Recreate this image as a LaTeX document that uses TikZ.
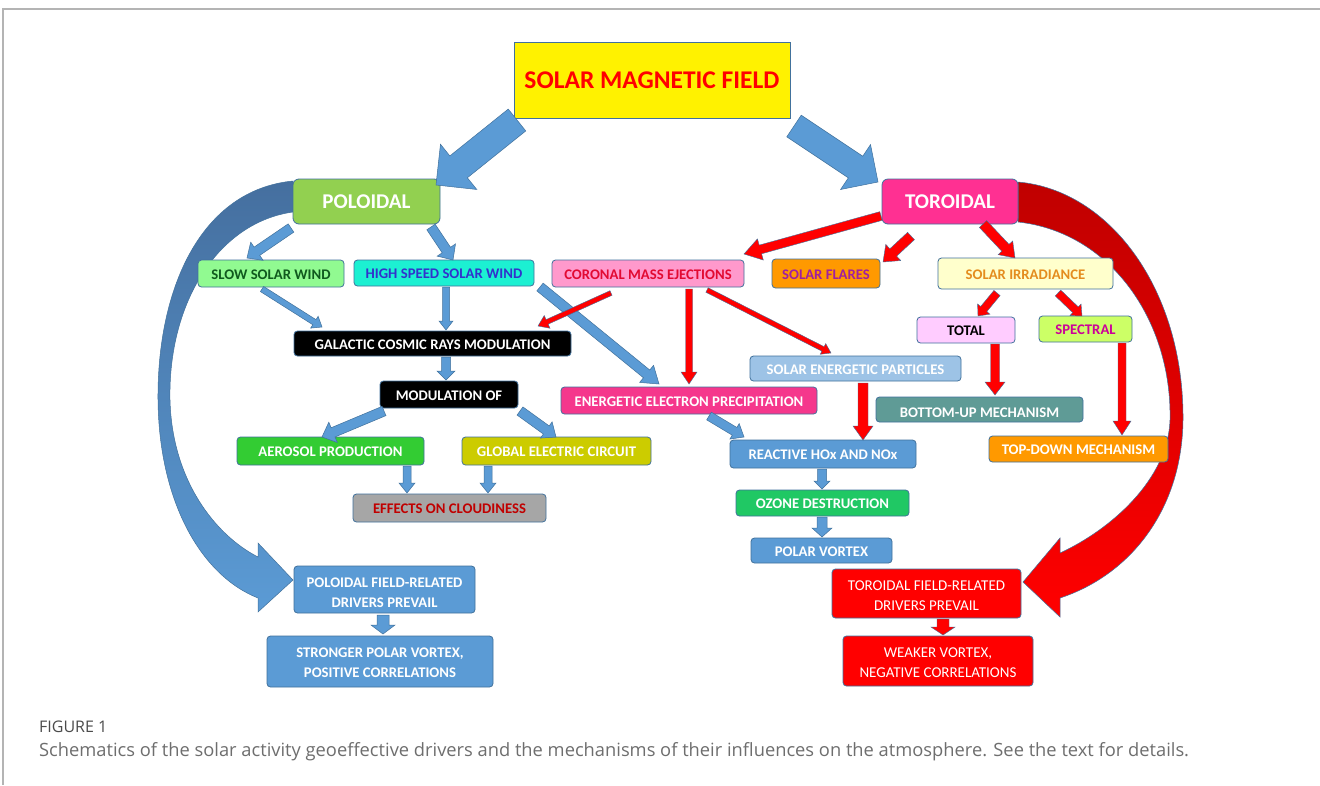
\documentclass[tikz,border=0pt]{standalone}
\usepackage{fontspec}
\setmainfont{Carlito}
\newfontfamily\capfont{Open Sans}
\usetikzlibrary{calc}
\definecolor{bordc}{HTML}{41719C}
\definecolor{bluef}{HTML}{5B9BD5}
\definecolor{bluedark}{HTML}{456F9F}
\definecolor{reddark}{HTML}{C00000}
\definecolor{framec}{HTML}{B4B4B4}
\newcommand\barrow[6]{%
  \coordinate (baS) at #1;
  \coordinate (baE) at #2;
  \coordinate (baH) at ($(baE)!#5pt!(baS)$);
  \path[#6] ($(baS)!#3pt!90:(baE)$) -- ($(baH)!#3pt!-90:(baS)$) -- ($(baH)!#4pt!-90:(baS)$) -- (baE) -- ($(baH)!#4pt!90:(baS)$) -- ($(baH)!#3pt!90:(baS)$) -- ($(baS)!#3pt!-90:(baE)$) -- cycle;
}
\tikzset{
  box/.style={draw=bordc, line width=0.8pt, rounded corners=3.5pt, inner sep=0pt, align=center,
    text height=12pt, font=\bfseries\fontsize{14.7}{20}\selectfont},
  twoline/.style={text height=#1, text depth=0pt},
  bluearr/.style={fill=bluef, draw=bordc, line width=0.5pt},
  redarr/.style={fill=red, draw=bordc, line width=0.4pt},
}
\begin{document}
\begin{tikzpicture}[x=1pt,y=-1pt]
\useasboundingbox[fill=white] (0,0) rectangle (1320,785);
\draw[framec, line width=1.3pt] (3,785) -- (3,9) -- (1320,9);

% big curved arrows
\path[top color=bluedark, bottom color=bluef, draw=bordc, line width=0.5pt]
  (293,181) .. controls (200,190) and (157,290) .. (158,400)
  .. controls (159,500) and (200,575) .. (258,598)
  -- (258,612) -- (293,580) -- (258,543) -- (258,557)
  .. controls (215,535) and (172,480) .. (170,400)
  .. controls (168,300) and (220,222) .. (293,212) -- cycle;
\path[top color=reddark, bottom color=red, draw=bordc, line width=0.5pt]
  (1018,182) .. controls (1110,190) and (1184,290) .. (1183,420)
  .. controls (1182,510) and (1130,575) .. (1060,598)
  -- (1060,617) -- (1023,582) -- (1060,538) -- (1060,553)
  .. controls (1110,530) and (1168,480) .. (1170,420)
  .. controls (1172,320) and (1110,232) .. (1018,222) -- cycle;

% boxes
\node[box, rounded corners=0pt, fill=yellow, minimum width=276pt, minimum height=76pt, text height=18pt,
  font=\bfseries\fontsize{25.5}{28}\selectfont, text=red] (smf) at (652,80) {SOLAR MAGNETIC FIELD};
\node[box, rounded corners=6pt, fill={rgb,255:red,146;green,208;blue,80}, minimum width=147pt, minimum height=45pt, text height=14pt,
  font=\bfseries\fontsize{21}{24}\selectfont, text=white] (pol) at (366.5,201.5) {POLOIDAL};
\node[box, rounded corners=6pt, fill={rgb,255:red,255;green,48;blue,146}, minimum width=136pt, minimum height=45pt, text height=14pt,
  font=\bfseries\fontsize{21}{24}\selectfont, text=white] (tor) at (950,201.5) {TOROIDAL};

\node[box, fill={rgb,255:red,145;green,250;blue,145}, text={rgb,255:red,16;green,90;blue,30},
  minimum width=146pt, minimum height=27pt] (ssw) at (271,273.5) {SLOW SOLAR WIND};
\node[box, fill={rgb,255:red,28;green,240;blue,210}, text={rgb,255:red,50;green,50;blue,204},
  minimum width=180pt, minimum height=26pt] (hss) at (444,273) {HIGH SPEED SOLAR WIND};
\node[box, fill={rgb,255:red,255;green,153;blue,204}, text={rgb,255:red,226;green,10;blue,50},
  minimum width=192pt, minimum height=27pt] (cme) at (648,273.5) {CORONAL MASS EJECTIONS};
\node[box, fill={rgb,255:red,255;green,153;blue,0}, text={rgb,255:red,160;green,32;blue,160},
  minimum width=108pt, minimum height=29pt] (sf) at (826,273.5) {SOLAR FLARES};
\node[box, fill={rgb,255:red,255;green,255;blue,204}, text={rgb,255:red,228;green,140;blue,30},
  minimum width=175pt, minimum height=31pt] (sirr) at (1025.5,273.5) {SOLAR IRRADIANCE};
\node[box, fill={rgb,255:red,255;green,204;blue,255}, text=black,
  minimum width=98pt, minimum height=26pt] (tot) at (966,330) {TOTAL};
\node[box, fill={rgb,255:red,204;green,255;blue,102}, text={rgb,255:red,204;green,0;blue,153},
  minimum width=93pt, minimum height=26pt] (spec) at (1085.5,329) {SPECTRAL};

\node[box, fill=black, text=white, minimum width=277pt, minimum height=25pt] (gcr) at (432.5,343.5) {GALACTIC COSMIC RAYS MODULATION};
\node[box, fill=black, text=white, minimum width=138pt, minimum height=27pt] (mod) at (449,394.5) {MODULATION OF};
\node[box, fill={rgb,255:red,51;green,204;blue,51}, text=white, minimum width=187pt, minimum height=28pt] (aer) at (330.5,451) {AEROSOL PRODUCTION};
\node[box, fill={rgb,255:red,204;green,204;blue,0}, text=white, minimum width=189pt, minimum height=28pt] (gec) at (556.5,451) {GLOBAL ELECTRIC CIRCUIT};
\node[box, fill={rgb,255:red,166;green,166;blue,166}, text={rgb,255:red,192;green,0;blue,0}, minimum width=193pt, minimum height=28pt] (eoc) at (449.5,508) {EFFECTS ON CLOUDINESS};

\node[box, fill={rgb,255:red,245;green,55;blue,140}, text=white, minimum width=256pt, minimum height=27pt] (eep) at (689,400.5) {ENERGETIC ELECTRON PRECIPITATION};
\node[box, fill={rgb,255:red,157;green,195;blue,230}, text=white, minimum width=211pt, minimum height=25pt] (sep) at (855.5,368.5) {SOLAR ENERGETIC PARTICLES};
\node[box, fill={rgb,255:red,95;green,155;blue,150}, minimum width=207pt, minimum height=25pt] (bum) at (979.5,409.5) {};
\begin{scope}
  \clip (876,397) rectangle (1083,416.2);
  \node[font=\bfseries\fontsize{14.7}{16}\selectfont, text=white, inner sep=0pt] (bumt) at (979.5,413.2) {BOTTOM-UP MECHANISM};
\end{scope}
\node[box, fill=bluef, text=white, minimum width=186pt, minimum height=28pt] (rhn) at (823,454) {REACTIVE HOx AND NOx};
\node[box, fill={rgb,255:red,255;green,153;blue,0}, text=white, minimum width=179pt, minimum height=26pt] (tdm) at (1078.5,449) {TOP-DOWN MECHANISM};
\node[box, fill={rgb,255:red,32;green,200;blue,100}, text=white, minimum width=173pt, minimum height=26pt] (ozd) at (822.5,503) {OZONE DESTRUCTION};
\node[box, fill=bluef, text=white, minimum width=141pt, minimum height=25pt] (pvx) at (821.5,550.5) {POLAR VORTEX};

\node[box, twoline=35.5pt, fill=bluef, text=white, minimum width=181pt, minimum height=47pt] (pfd) at (384.5,589.5) {POLOIDAL FIELD-RELATED\\DRIVERS PREVAIL};
\node[box, twoline=32.5pt, fill=bluef, text=white, minimum width=226pt, minimum height=51pt] (spv) at (380,661.5) {STRONGER POLAR VORTEX,\\POSITIVE CORRELATIONS};
\node[box, twoline=33.7pt, fill=red, text=white, font=\fontsize{15}{20}\selectfont, minimum width=189pt, minimum height=49pt] (tfd) at (926.5,593.5) {TOROIDAL FIELD-RELATED\\DRIVERS PREVAIL};
\node[box, twoline=32.7pt, fill=red, text=white, font=\fontsize{15}{20}\selectfont, minimum width=190pt, minimum height=50pt] (wvx) at (938,661) {WEAKER VORTEX,\\NEGATIVE CORRELATIONS};

% blue block arrows
\barrow{(517,120)}{(436,185)}{14}{29}{29}{bluearr}
\barrow{(794,126)}{(878,182)}{13}{27}{27}{bluearr}
\barrow{(291,228)}{(247,258)}{5}{11}{12}{bluearr}
\barrow{(431,227)}{(453,260)}{5}{11}{12}{bluearr}
\barrow{(262,289)}{(322,327)}{3}{7}{9}{bluearr}
\barrow{(446,287)}{(446,330)}{3.5}{7}{9}{bluearr}
\barrow{(540,287)}{(659,384)}{5}{11}{16}{bluearr}
\barrow{(446,357)}{(446,380)}{4.5}{9}{9}{bluearr}
\barrow{(384,411)}{(322,437)}{5}{11}{12}{bluearr}
\barrow{(520,411)}{(556,437)}{5}{10}{12}{bluearr}
\barrow{(407,466)}{(407,493)}{4}{8}{10}{bluearr}
\barrow{(488,466)}{(488,493)}{4}{8}{10}{bluearr}
\barrow{(709,416)}{(744,437)}{4.5}{9}{11}{bluearr}
\barrow{(822,469)}{(822,489)}{4.5}{8}{8}{bluearr}
\barrow{(822,517)}{(822,537)}{5}{10}{9}{bluearr}
\barrow{(383,615)}{(383,634)}{6}{12}{9}{bluearr}
\barrow{(943,619)}{(943,635)}{6}{12}{8}{redarr}

% red arrows
\barrow{(881,216)}{(744,254)}{4.5}{11}{17}{redarr}
\barrow{(911,236)}{(883,262)}{5}{11}{14}{redarr}
\barrow{(983,224)}{(1015,258)}{5}{10}{14}{redarr}
\barrow{(997,293)}{(978,316)}{4}{8}{9}{redarr}
\barrow{(1058,293)}{(1082,316)}{4}{8}{9}{redarr}
\barrow{(611,293)}{(538,326)}{2.5}{7}{10}{redarr}
\barrow{(689,289)}{(689,384)}{3.5}{8}{12}{redarr}
\barrow{(707,290)}{(831,353)}{2.5}{6}{9}{redarr}
\barrow{(863,383)}{(863,440)}{5}{10}{14}{redarr}
\barrow{(995,344)}{(995,395)}{4.5}{10}{13}{redarr}
\barrow{(1122,343)}{(1122,435)}{4}{9}{14}{redarr}

% caption
\node[anchor=west, inner sep=0pt, font=\capfont\fontsize{16}{18}\selectfont, text={rgb,255:red,75;green,75;blue,75}] (figlbl) at (39,727) {FIGURE 1};
\node[anchor=west, inner sep=0pt, font=\capfont\fontsize{18.3}{20}\selectfont, text={rgb,255:red,110;green,110;blue,110}] (figcap) at (39,752) {Schematics of the solar activity geoeffective drivers and the mechanisms of their influences on the atmosphere. See the text for details.};
\end{tikzpicture}
\end{document}
